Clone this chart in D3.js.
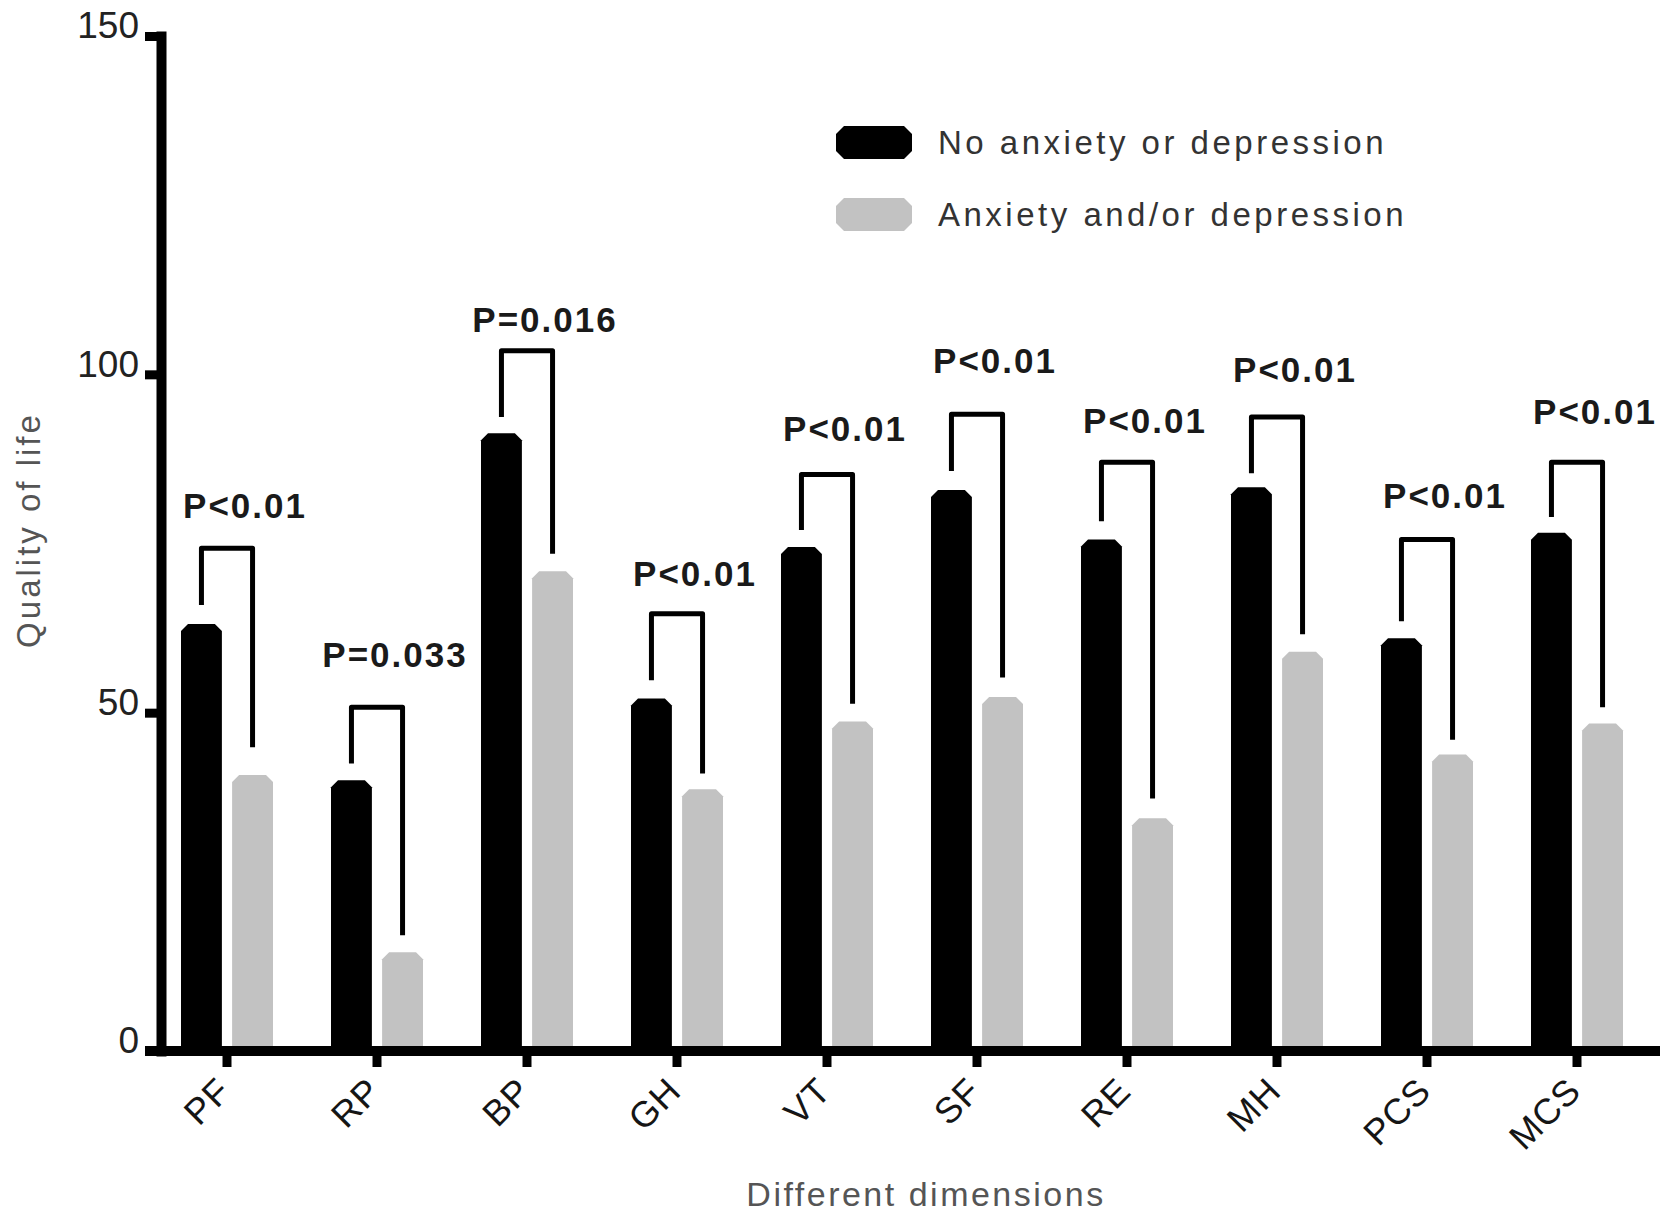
<!DOCTYPE html>
<html>
<head>
<meta charset="utf-8">
<script src="https://cdn.jsdelivr.net/npm/d3@7"></script>
<style>
  html, body { margin: 0; padding: 0; background: #fff; }
  svg { display: block; font-family: "Liberation Sans", Arial, sans-serif; }
</style>
</head>
<body>
<div id="chart"></div>
<script>
// values
const categories = ['PF', 'RP', 'BP', 'GH', 'VT', 'SF', 'RE', 'MH', 'PCS', 'MCS'];
const groups = ['No anxiety or depression', 'Anxiety and/or depression'];
const noAnxiety = [63.1, 40.0, 91.3, 52.1, 74.5, 82.9, 75.6, 83.3, 61.0, 76.6];
const anxiety   = [40.8, 14.6, 70.9, 38.7, 48.7, 52.3, 34.4, 59.0, 43.8, 48.4];
const yTicks = [0, 50, 100, 150];

// significance brackets (in axis units)
const pLabels    = ['P<0.01', 'P=0.033', 'P=0.016', 'P<0.01', 'P<0.01', 'P<0.01', 'P<0.01', 'P<0.01', 'P<0.01', 'P<0.01'];
const bracketTop = [74.3, 50.8, 103.5, 64.6, 85.2, 94.1, 87.0, 93.7, 75.6, 87.0];
const legLeft    = [65.9, 42.5, 93.7, 54.8, 77.0, 85.7, 78.3, 85.4, 63.5, 78.9];
const legRight   = [44.9, 17.1, 73.5, 41.0, 51.3, 55.2, 37.3, 61.6, 46.0, 50.8];
const labelAt    = [78.7, 56.8, 106.3, 68.7, 90.2, 100.2, 91.4, 98.9, 80.3, 92.7];

const W = 1677, H = 1226;
const colors = { [groups[0]]: '#000000', [groups[1]]: '#c2c2c2' };

const svg = d3.select('#chart').append('svg')
  .attr('width', W).attr('height', H);

const y = d3.scaleLinear().domain([0, 150]).range([1051, 36]);
const x = d3.scaleBand().domain(categories).range([152, 1652]).padding(0);
const x1 = d3.scaleBand().domain(groups).range([-46, 46]).paddingInner(0.2);

// bar with chamfered top corners
function barPath(x0, w, v) {
  const top = y(v), base = y(0), c = Math.min(7, w / 4);
  return `M${x0},${base}V${top + c}L${x0 + c},${top}H${x0 + w - c}L${x0 + w},${top + c}V${base}Z`;
}

const rows = categories.map((cat, i) => ({
  cat, i, values: [
    { g: groups[0], v: noAnxiety[i] },
    { g: groups[1], v: anxiety[i] }
  ]
}));

const cg = svg.append('g').selectAll('g').data(rows).join('g')
  .attr('transform', d => `translate(${x(d.cat) + x.bandwidth() / 2},0)`);

cg.selectAll('path.bar').data(d => d.values).join('path')
  .attr('class', 'bar')
  .attr('fill', d => colors[d.g])
  .attr('d', d => barPath(x1(d.g), x1.bandwidth(), d.v));

// brackets
cg.append('path')
  .attr('fill', 'none')
  .attr('stroke', '#000')
  .attr('stroke-width', 5)
  .attr('stroke-linejoin', 'round')
  .attr('d', d => {
    const xl = x1(groups[0]) + x1.bandwidth() / 2;
    const xr = x1(groups[1]) + x1.bandwidth() / 2;
    return `M${xl},${y(legLeft[d.i])}V${y(bracketTop[d.i])}H${xr}V${y(legRight[d.i])}`;
  });

cg.append('text')
  .attr('x', 18)
  .attr('y', d => y(labelAt[d.i]))
  .attr('text-anchor', 'middle')
  .attr('font-size', 35)
  .attr('font-weight', 'bold')
  .attr('letter-spacing', 2)
  .attr('fill', '#1a1a1a')
  .text(d => pLabels[d.i]);

// y axis
const yAxis = svg.append('g')
  .attr('transform', 'translate(161,0)')
  .call(d3.axisLeft(y).tickValues(yTicks).tickSize(16).tickSizeOuter(0).tickPadding(6));
yAxis.select('.domain').attr('stroke', '#000').attr('stroke-width', 10).attr('stroke-linecap', 'square');
yAxis.selectAll('.tick line').attr('stroke', '#000').attr('stroke-width', 9);
yAxis.selectAll('.tick text')
  .attr('font-size', 37).attr('fill', '#222').attr('dy', '0.05em')
  .attr('font-family', '"Liberation Sans", Arial, sans-serif');

// x axis
const xAxis = svg.append('g')
  .attr('transform', `translate(0,${y(0)})`)
  .call(d3.axisBottom(x).tickSize(16).tickSizeOuter(0).tickFormat(''));
xAxis.select('.domain').remove();
xAxis.selectAll('.tick line').attr('stroke', '#000').attr('stroke-width', 9);
xAxis.append('line')
  .attr('x1', 145).attr('x2', 1660)
  .attr('stroke', '#000').attr('stroke-width', 10);

svg.append('g').selectAll('text').data(categories).join('text')
  .attr('transform', d => `translate(${x(d) + x.bandwidth() / 2 + 6},1093) rotate(-45)`)
  .attr('text-anchor', 'end')
  .attr('font-size', 36)
  .attr('letter-spacing', 1)
  .attr('fill', '#151515')
  .text(d => d);

// axis titles
svg.append('text')
  .attr('transform', 'translate(40,530) rotate(-90)')
  .attr('text-anchor', 'middle')
  .attr('font-size', 33)
  .attr('letter-spacing', 3)
  .attr('fill', '#555')
  .text('Quality of life');

svg.append('text')
  .attr('x', 926).attr('y', 1206)
  .attr('text-anchor', 'middle')
  .attr('font-size', 34)
  .attr('letter-spacing', 2.5)
  .attr('fill', '#555')
  .text('Different dimensions');

// legend
const legend = svg.append('g').selectAll('g').data(groups).join('g')
  .attr('transform', (d, i) => `translate(836,${126 + i * 72})`);

legend.append('path')
  .attr('fill', d => colors[d])
  .attr('d', 'M8,0H68L76,8V25L68,33H8L0,25V8Z');

legend.append('text')
  .attr('x', 102).attr('y', 28)
  .attr('font-size', 33)
  .attr('letter-spacing', 3.5)
  .attr('fill', '#333')
  .text(d => d);
</script>
</body>
</html>
